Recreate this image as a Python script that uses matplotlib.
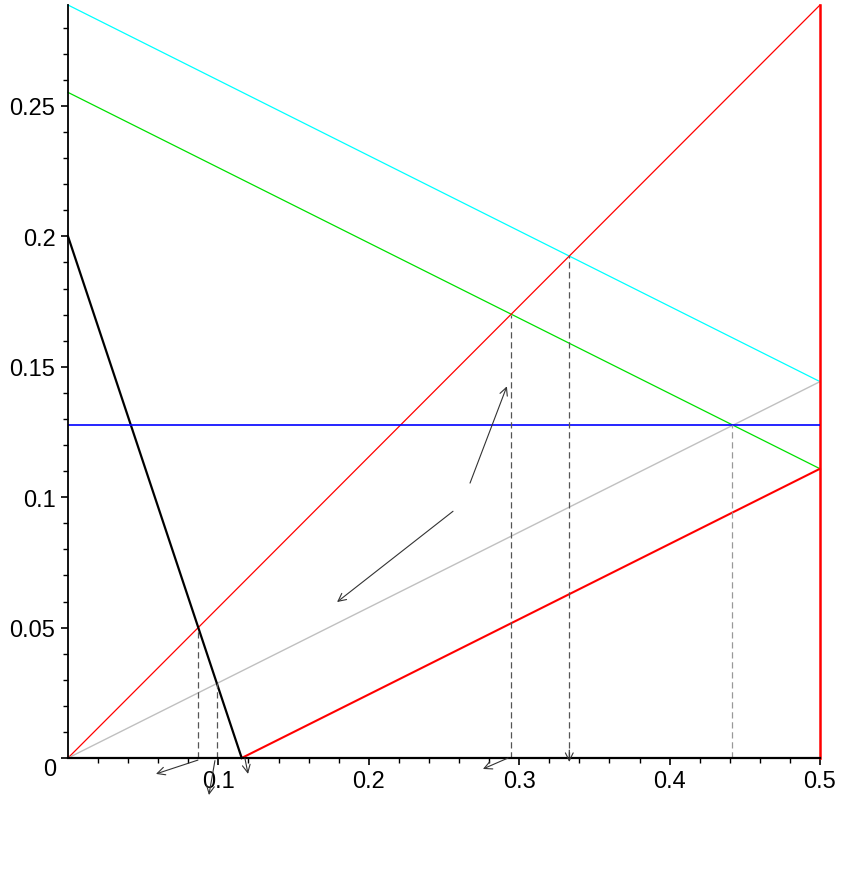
import numpy as np
import matplotlib.pyplot as plt

plt.rcParams['font.family'] = ['Liberation Sans', 'DejaVu Sans']

# line endpoints (x0, x1), (y0, y1)
cyan_x = [0.0, 0.5]
cyan_y = [0.2887, 0.1443]
green_x = [0.0, 0.5]
green_y = [0.2552, 0.1109]
red1_x = [0.0, 0.5]
red1_y = [0.0, 0.2887]
gray_x = [0.0, 0.5]
gray_y = [0.0, 0.1443]
red2_x = [0.1155, 0.5]
red2_y = [0.0, 0.1109]
redv_x = [0.5, 0.5]
redv_y = [0.0, 0.2887]
black_x = [0.0, 0.1155]
black_y = [0.2, 0.0]
blue_y = 0.1276

# dashed verticals: x position and top height
dash_x = [0.0866, 0.0990, 0.2944, 0.3333, 0.4413]
dash_top = [0.05, 0.0286, 0.170, 0.1925, 0.1276]
dash_col = ['#555555', '#555555', '#555555', '#555555', '#999999']

# arrows: (x_start, y_start, x_end, y_end)
arrows = [
    (0.2673, 0.1054, 0.2918, 0.1425),
    (0.2560, 0.0946, 0.1789, 0.0598),
    (0.0864, -0.0008, 0.0585, -0.0061),
    (0.0977, -0.0010, 0.0937, -0.0142),
    (0.1176, 0.0000, 0.1197, -0.0061),
    (0.2926, 0.0000, 0.2759, -0.0042),
    (0.3333, 0.0030, 0.3333, -0.0015),
]

xticks = [0.1, 0.2, 0.3, 0.4, 0.5]
yticks = [0.05, 0.1, 0.15, 0.2, 0.25]

fig = plt.figure(figsize=(8.5, 8.7), dpi=100)
ax = fig.add_axes([68 / 850, 111 / 870, 752 / 850, 753 / 870])

ax.plot(cyan_x, cyan_y, color='#00ffff', lw=0.9, clip_on=False)
ax.plot(green_x, green_y, color='#00e000', lw=0.9, clip_on=False)
ax.plot(red1_x, red1_y, color='#ff0000', lw=0.9, clip_on=False)
ax.plot(gray_x, gray_y, color='#c0c0c0', lw=1.0, clip_on=False)
ax.plot(red2_x, red2_y, color='#ff0000', lw=1.5, clip_on=False)
ax.plot(redv_x, redv_y, color='#ff0000', lw=1.8, clip_on=False)
ax.plot(black_x, black_y, color='black', lw=1.6, clip_on=False)
ax.axhline(blue_y, color='#0000ff', lw=1.2)

for x, top, c in zip(dash_x, dash_top, dash_col):
    ax.plot([x, x], [0, top], color=c, lw=0.9, ls=(0, (5, 3)), clip_on=False)

for x0, y0, x1, y1 in arrows:
    ax.annotate('', xy=(x1, y1), xytext=(x0, y0),
                arrowprops=dict(arrowstyle='->', color='#333333', lw=0.8,
                                mutation_scale=14, shrinkA=0, shrinkB=0),
                annotation_clip=False)

ax.set_xlim(0, 0.5)
ax.set_ylim(0, 0.2887)
for s in ['top', 'right']:
    ax.spines[s].set_visible(False)
ax.spines['left'].set_linewidth(1.3)
ax.spines['bottom'].set_linewidth(1.6)

ax.set_xticks(xticks)
ax.set_xticklabels(['0.1', '0.2', '0.3', '0.4', '0.5'])
ax.set_xticks(np.arange(0.02, 0.5, 0.02), minor=True)
ax.set_yticks([0] + yticks)
ax.set_yticklabels([''] + ['0.05', '0.1', '0.15', '0.2', '0.25'])
ax.set_yticks(np.arange(0.01, 0.285, 0.01), minor=True)
ax.tick_params(which='major', length=5, width=1.2, labelsize=17, pad=4)
ax.tick_params(which='minor', length=3.5, width=1.0)
ax.annotate('0', xy=(0, 0), xytext=(-18, -11), textcoords='offset pixels',
            ha='center', va='center', fontsize=17)

fig.savefig('out.png', dpi=100)
